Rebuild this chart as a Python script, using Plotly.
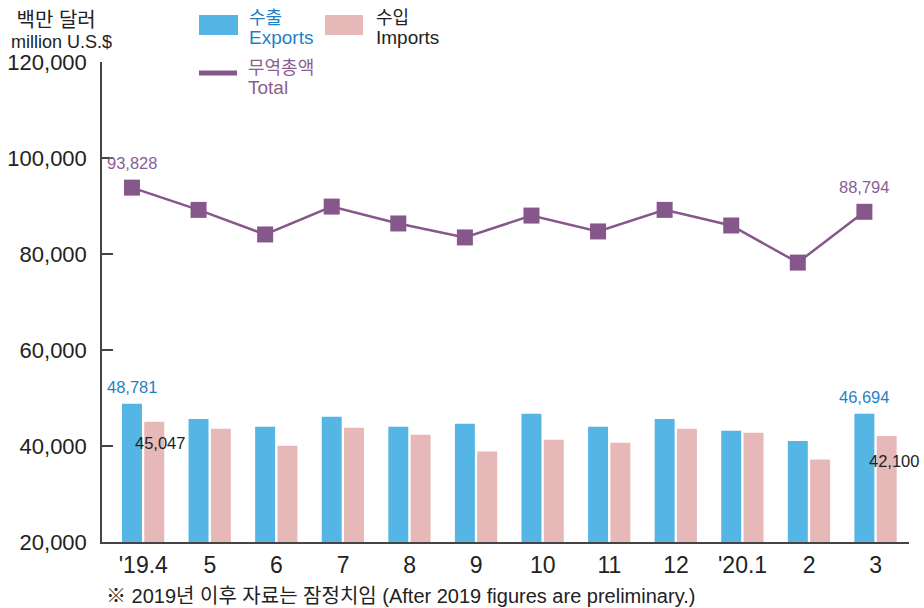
import plotly.graph_objects as go

# ---------------- data ----------------
months = ["'19.4", "5", "6", "7", "8", "9", "10", "11", "12", "'20.1", "2", "3"]
exports = [48781, 45600, 44000, 46080, 44010, 44620, 46700, 44010, 45600, 43180, 41040, 46694]
imports = [45047, 43590, 40070, 43800, 42350, 38830, 41310, 40690, 43590, 42760, 37170, 42100]
totals = [93828, 89190, 84070, 89880, 86360, 83450, 88010, 84700, 89190, 85940, 78210, 88794]
y_ticks = [20000, 40000, 60000, 80000, 100000, 120000]

# ---------------- style ----------------
W, H = 924, 608
ML, MR, MT, MB = 102, 15, 62, 66
BLUE = "#55b5e4"
PINK = "#e6b8b8"
PURPLE = "#86578a"
BLUE_TXT = "#1f7fc7"
PURP_TXT = "#8b5e91"
DARK = "#222222"
FONT = "Liberation Sans, Arial, Noto Sans CJK KR, sans-serif"

EXP_OFF, IMP_OFF, BW = -0.32, 0.015, 0.30
exp_c = EXP_OFF + BW / 2

idx = list(range(len(months)))


def px(x):
    return (x - ML) / (W - ML - MR)


def py(y):
    return (H - MB - y) / (H - MT - MB)


fig = go.Figure()
fig.add_trace(go.Bar(x=idx, y=exports, offset=EXP_OFF, width=BW,
                     marker=dict(color=BLUE, line_width=0), showlegend=False))
fig.add_trace(go.Bar(x=idx, y=imports, offset=IMP_OFF, width=BW,
                     marker=dict(color=PINK, line_width=0), showlegend=False))
fig.add_trace(go.Scatter(x=[i + exp_c for i in idx], y=totals, mode="lines+markers",
                         line=dict(color=PURPLE, width=2.5),
                         marker=dict(symbol="square", size=16, color=PURPLE),
                         showlegend=False))

ann = []
lf = dict(family=FONT, size=16.5)
for i in (0, len(idx) - 1):
    ann.append(dict(x=i + exp_c, y=totals[i], text=f"{totals[i]:,}", showarrow=False,
                    yshift=25, font=dict(color=PURP_TXT, **lf)))
    ann.append(dict(x=i + exp_c, y=exports[i], text=f"{exports[i]:,}", showarrow=False,
                    yshift=17, font=dict(color=BLUE_TXT, **lf)))
ann.append(dict(x=0 + IMP_OFF + BW / 2, y=imports[0], text=f"{imports[0]:,}", showarrow=False,
                yshift=-21, xshift=6, font=dict(color=DARK, **lf)))
ann.append(dict(x=11 + IMP_OFF + BW / 2, y=imports[11], text=f"{imports[11]:,}", showarrow=False,
                yshift=-25, xshift=7, font=dict(color=DARK, **lf)))


def ptxt(x, y, t, color, size=18, anchor="left", yanchor="middle", align="left"):
    ann.append(dict(xref="paper", yref="paper", x=px(x), y=py(y), text=t, showarrow=False,
                    xanchor=anchor, yanchor=yanchor, align=align,
                    font=dict(family=FONT, size=size, color=color)))


def two(ko, en, ko_size=18, en_size=19):
    return (f"<span style='font-size:{ko_size}px'>{ko}</span><br>"
            f"<span style='font-size:{en_size}px'>{en}</span>")


ptxt(247, 28, two("수출", "Exports"), BLUE_TXT, 15)
ptxt(374, 28, two("수입", "Imports"), DARK, 15)
ptxt(246, 77.5, two("무역총액", "Total"), PURP_TXT, 15.5)
ptxt(9, 30.5, two("&nbsp;백만 달러", "million U.S.$", 20, 18), DARK, 16)
ptxt(104, 596, "※ 2019년 이후 자료는 잠정치임 (After 2019 figures are preliminary.)", DARK, 20)

shapes = [
    dict(type="rect", xref="paper", yref="paper", x0=px(199), x1=px(238), y0=py(35), y1=py(15),
         fillcolor=BLUE, line_width=0),
    dict(type="rect", xref="paper", yref="paper", x0=px(325), x1=px(363), y0=py(35), y1=py(15),
         fillcolor=PINK, line_width=0),
    dict(type="line", xref="paper", yref="paper", x0=px(199), x1=px(237), y0=py(73), y1=py(73),
         line=dict(color=PURPLE, width=5)),
]

fig.update_layout(
    width=W, height=H,
    margin=dict(l=ML, r=MR, t=MT, b=MB, autoexpand=False),
    paper_bgcolor="white", plot_bgcolor="white",
    font=dict(family=FONT, color=DARK),
    annotations=ann, shapes=shapes,
    showlegend=False,
    xaxis=dict(range=[-0.62, 11.5], tickvals=idx, ticktext=months, showgrid=False,
               zeroline=False, showline=True, linecolor="#444444", linewidth=1.5,
               ticks="", ticklabelstandoff=2, automargin=False,
               tickfont=dict(size=23, color=DARK, family=FONT)),
    yaxis=dict(range=[20000, 120000], tickvals=y_ticks, tickformat=",", showgrid=False,
               zeroline=False, showline=True, linecolor="#444444", linewidth=1.5,
               ticks="inside", ticklen=11, tickwidth=1.5, tickcolor="#444444",
               ticklabelstandoff=9, automargin=False,
               tickfont=dict(size=22, color=DARK, family=FONT)),
)

fig.write_html("out.html", config={"displayModeBar": False},
               post_script="document.body.style.margin='0';document.body.style.overflow='hidden';")
